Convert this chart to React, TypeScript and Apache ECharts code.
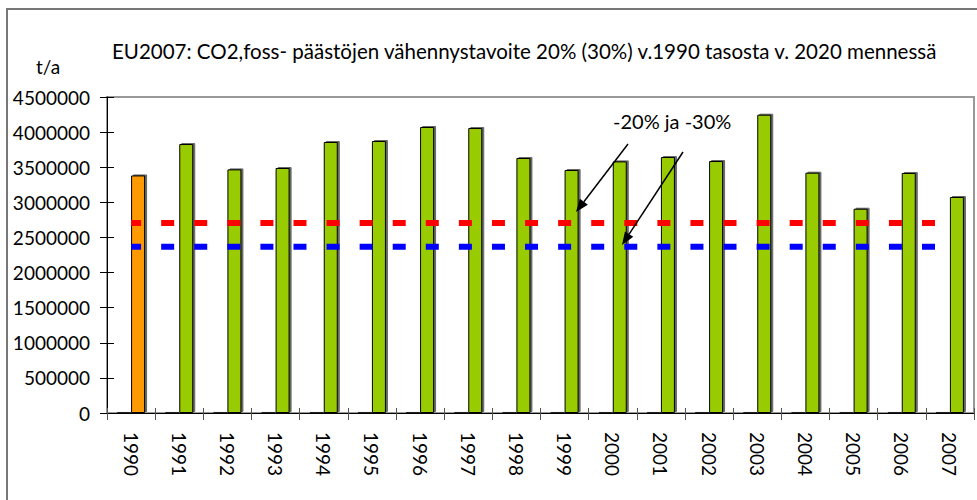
import React, { useEffect, useRef } from "react";
import * as echarts from "echarts";

const years = ["1990", "1991", "1992", "1993", "1994", "1995", "1996", "1997", "1998", "1999", "2000", "2001", "2002", "2003", "2004", "2005", "2006", "2007"];
const emissions = [3383000, 3830000, 3469000, 3489000, 3859000, 3873000, 4073000, 4058000, 3631000, 3460000, 3583000, 3645000, 3588000, 4248000, 3422000, 2909000, 3418000, 3076000];
const baseSeries = [12000, 12000, 12000, 12000, 12000, 12000, 12000, 12000, 12000, 12000, 12000, 12000, 12000, 12000, 12000, 12000, 12000, 12000];
const target20 = [2706000, 2706000, 2706000, 2706000, 2706000, 2706000, 2706000, 2706000, 2706000, 2706000, 2706000, 2706000, 2706000, 2706000, 2706000, 2706000, 2706000, 2706000];
const target30 = [2368000, 2368000, 2368000, 2368000, 2368000, 2368000, 2368000, 2368000, 2368000, 2368000, 2368000, 2368000, 2368000, 2368000, 2368000, 2368000, 2368000, 2368000];
const yMin = 0;
const yMax = 4500000;
const yInterval = 500000;

const titleText = "EU2007: CO2,foss- päästöjen vähennystavoite 20% (30%) v.1990 tasosta v. 2020 mennessä";
const unitText = "t/a";
const noteText = "-20% ja -30%";

const FONT = "Lato";

export default function App() {
  const ref = useRef<HTMLDivElement>(null);
  useEffect(() => {
    document.body.style.margin = "0";
    if (!ref.current) return;
    const chart = echarts.init(ref.current, undefined, { renderer: "svg" });
    const arrow = (sx: number, sy: number, tx: number, ty: number) => {
      const dx = tx - sx;
      const dy = ty - sy;
      const len = Math.sqrt(dx * dx + dy * dy);
      const ux = dx / len;
      const uy = dy / len;
      const bx = tx - 13 * ux;
      const by = ty - 13 * uy;
      const nx = -uy;
      const ny = ux;
      return [
        { type: "line", shape: { x1: sx, y1: sy, x2: bx, y2: by }, style: { stroke: "#000", lineWidth: 1.5 }, z: 100 },
        {
          type: "polygon",
          shape: { points: [[tx, ty], [bx + 5 * nx, by + 5 * ny], [bx - 5 * nx, by - 5 * ny]] },
          style: { fill: "#000" },
          z: 100,
        },
      ];
    };
    const option: any = {
      animation: false,
      title: {
        text: titleText,
        left: 107,
        top: 35,
        textStyle: { fontFamily: FONT, fontSize: 20.5, fontWeight: "normal", color: "#000" },
      },
      grid: {
        left: 107,
        right: 3,
        top: 97,
        bottom: 87,
        show: true,
        borderColor: "#999",
        borderWidth: 2,
        backgroundColor: "transparent",
      },
      xAxis: [
        {
          type: "category",
          data: years,
          position: "bottom",
          axisLine: { lineStyle: { color: "#000", width: 1 } },
          axisTick: { show: true, length: 7, lineStyle: { color: "#555" } },
          axisLabel: { rotate: -90, margin: 19, fontFamily: FONT, fontSize: 19, color: "#000" },
        },
        {
          type: "category",
          data: years,
          position: "bottom",
          axisLine: { show: false },
          axisTick: { show: true, inside: true, length: 5, lineStyle: { color: "#555" } },
          axisLabel: { show: false },
        },
      ],
      yAxis: [
        {
          type: "value",
          min: yMin,
          max: yMax,
          interval: yInterval,
          axisLine: { show: true, lineStyle: { color: "#000", width: 1 } },
          axisTick: { show: true, length: 7, lineStyle: { color: "#000" } },
          axisLabel: {
            margin: 17,
            fontFamily: FONT,
            fontSize: 19,
            color: "#000",
            formatter: (v: number) => String(v),
          },
          splitLine: { show: false },
        },
        {
          type: "value",
          min: yMin,
          max: yMax,
          interval: yInterval,
          position: "left",
          axisLine: { show: false },
          axisTick: { show: true, inside: true, length: 7, lineStyle: { color: "#000" } },
          axisLabel: { show: false },
          splitLine: { show: false },
        },
      ],
      series: [
        {
          type: "bar",
          data: baseSeries,
          barWidth: 14,
          barGap: "0%",
          itemStyle: { color: "#000", borderColor: "#000", borderWidth: 0.5 },
        },
        {
          type: "bar",
          data: emissions.map((v, i) => (i === 0 ? { value: v, itemStyle: { color: "#FF9900" } } : v)),
          barWidth: 14,
          barGap: "0%",
          itemStyle: {
            color: "#99CC00",
            borderColor: "#000",
            borderWidth: 1,
            shadowColor: "rgba(0,0,0,0.6)",
            shadowOffsetX: 2,
            shadowOffsetY: -1,
            shadowBlur: 0,
          },
        },
        {
          type: "line",
          data: target20,
          symbol: "none",
          lineStyle: { color: "#FF0000", width: 6, type: [13, 20.08], dashOffset: 3, cap: "butt" },
          z: 5,
        },
        {
          type: "line",
          data: target30,
          symbol: "none",
          lineStyle: { color: "#0000FF", width: 6, type: [13, 20.08], dashOffset: 3, cap: "butt" },
          z: 5,
        },
      ],
      graphic: [
        { type: "line", shape: { x1: 7, y1: 8, x2: 7, y2: 500 }, style: { stroke: "#777", lineWidth: 2 } },
        { type: "line", shape: { x1: 6, y1: 9, x2: 977, y2: 9 }, style: { stroke: "#777", lineWidth: 2 } },
        {
          type: "text",
          left: 36,
          top: 57,
          style: { text: unitText, fontFamily: FONT, fontSize: 19, fill: "#000" },
        },
        {
          type: "text",
          left: 613,
          top: 111,
          style: { text: noteText, fontFamily: FONT, fontSize: 20, fill: "#000" },
          z: 100,
        },
        ...arrow(628, 144, 576, 212),
        ...arrow(683, 152, 622, 245),
      ],
    };
    chart.setOption(option);
    return () => chart.dispose();
  }, []);
  return <div ref={ref} style={{ width: 977, height: 500 }} />;
}
